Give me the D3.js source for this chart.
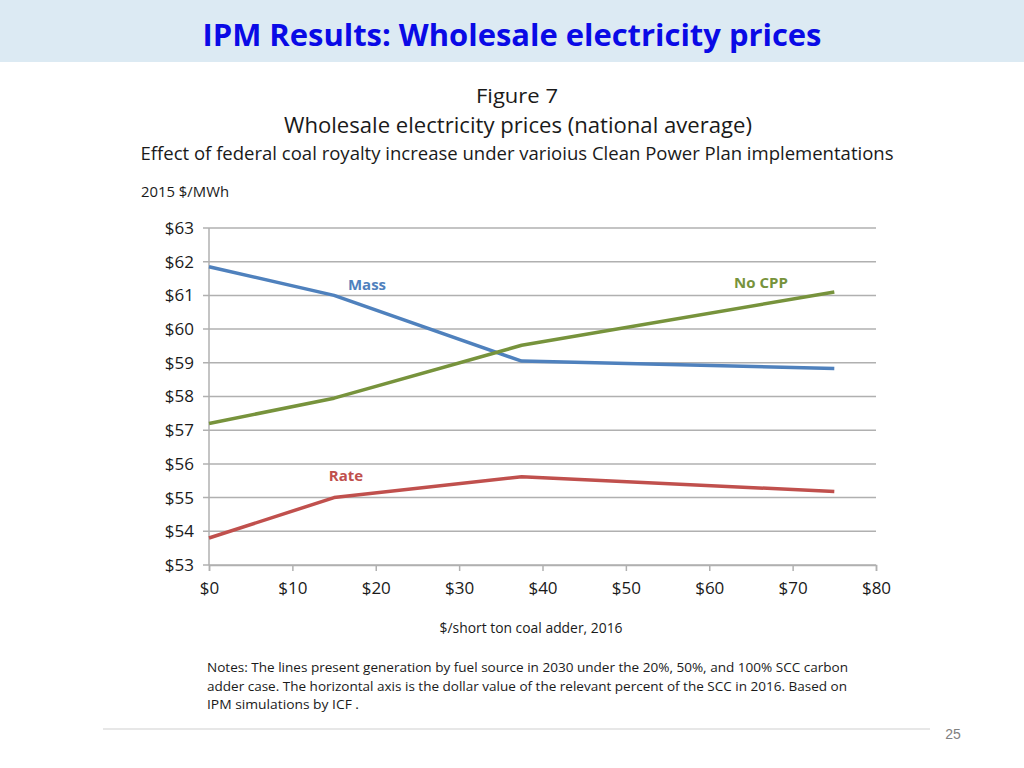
<!DOCTYPE html>
<html>
<head>
<meta charset="utf-8">
<script src="https://cdn.jsdelivr.net/npm/d3@7"></script>
<style>
  body { margin: 0; background: #fff; }
  svg { display: block; font-family: "Open Sans", "Noto Sans", sans-serif; }
</style>
</head>
<body>
<div id="chart"></div>
<script>
// values ($/short ton adder -> 2015 $/MWh)
const adders = [0, 15, 37.5, 75];
const massPrices = [61.85, 61.0, 59.05, 58.83];
const noCppPrices = [57.2, 57.95, 59.52, 61.1];
const ratePrices = [53.8, 55.0, 55.62, 55.18];
const xTicks = [0, 10, 20, 30, 40, 50, 60, 70, 80];
const yTicks = [53, 54, 55, 56, 57, 58, 59, 60, 61, 62, 63];
const notes = [
  "Notes: The lines present generation by fuel source in 2030 under the 20%, 50%, and 100% SCC carbon",
  "adder case. The horizontal axis is the dollar value of the relevant percent of the SCC in 2016. Based on",
  "IPM simulations by ICF ."
];

const series = [
  { name: "Mass", values: massPrices, color: "#4f81bd", lx: 367, ly: 290 },
  { name: "No CPP", values: noCppPrices, color: "#77933c", lx: 761, ly: 288 },
  { name: "Rate", values: ratePrices, color: "#c0504d", lx: 346, ly: 481 }
];

const svg = d3.select('#chart').append('svg').attr('width', 1024).attr('height', 768);

// header band
svg.append('rect').attr('x', 0).attr('y', 0).attr('width', 1024).attr('height', 62).attr('fill', '#dceaf3');
svg.append('text').attr('x', 512).attr('y', 46).attr('text-anchor', 'middle')
  .attr('font-size', 31).attr('font-weight', 'bold').attr('fill', '#0a0ae6')
  .attr('textLength', 619).attr('lengthAdjust', 'spacingAndGlyphs')
  .text('IPM Results: Wholesale electricity prices');

// figure titles
const fig = (txt, x, y, size, len, anchor) => svg.append('text').attr('x', x).attr('y', y)
  .attr('text-anchor', anchor || 'middle').attr('font-size', size).attr('fill', '#1a1a1a')
  .attr('textLength', len).attr('lengthAdjust', 'spacingAndGlyphs').text(txt);
fig('Figure 7', 517, 103, 20, 82);
fig('Wholesale electricity prices (national average)', 518, 133, 22, 468);
fig('Effect of federal coal royalty increase under varioius Clean Power Plan implementations', 517, 160, 18, 753);
fig('2015 $/MWh', 141, 197, 14, 88, 'start');

// plot area
const margin = { left: 209, top: 228 };
const width = 876 - 209;
const height = 565 - 228;
const g = svg.append('g').attr('transform', `translate(${margin.left},${margin.top})`);

const x = d3.scaleLinear().domain([0, 80]).range([0, width]);
const y = d3.scaleLinear().domain([53, 63]).range([height, 0]);

g.selectAll('.grid').data(yTicks).enter().append('line')
  .attr('x1', -6).attr('x2', width)
  .attr('y1', d => y(d)).attr('y2', d => y(d))
  .attr('stroke', '#b0b0b0').attr('stroke-width', 1.5);

g.append('line').attr('x1', 0).attr('x2', 0).attr('y1', 0).attr('y2', height)
  .attr('stroke', '#b0b0b0').attr('stroke-width', 1.5);

const xAxis = g.append('g').attr('transform', `translate(0,${height})`)
  .call(d3.axisBottom(x).tickValues(xTicks).tickSize(6).tickPadding(11).tickFormat(d => '$' + d));
xAxis.select('.domain').attr('stroke', '#b0b0b0').attr('stroke-width', 1.5);
xAxis.selectAll('.tick line').attr('stroke', '#b0b0b0').attr('stroke-width', 1.5);
xAxis.selectAll('text').attr('font-size', 17).attr('fill', '#1a1a1a')
  .attr('font-family', '"Open Sans", sans-serif');

const yAxis = g.append('g')
  .call(d3.axisLeft(y).tickValues(yTicks).tickSize(0).tickPadding(15).tickFormat(d => '$' + d));
yAxis.select('.domain').remove();
yAxis.selectAll('text').attr('font-size', 17).attr('fill', '#1a1a1a')
  .attr('font-family', '"Open Sans", sans-serif');

const line = d3.line().x((d, i) => x(adders[i])).y(d => y(d));

g.selectAll('.series').data(series).enter().append('path')
  .attr('d', d => line(d.values))
  .attr('fill', 'none').attr('stroke', d => d.color).attr('stroke-width', 3.5)
  .attr('stroke-linejoin', 'round');

svg.selectAll('.lbl').data(series).enter().append('text')
  .attr('x', d => d.lx).attr('y', d => d.ly).attr('text-anchor', 'middle')
  .attr('font-size', 15).attr('font-weight', 'bold').attr('fill', d => d.color)
  .text(d => d.name);

// axis title
svg.append('text').attr('x', 531).attr('y', 633).attr('text-anchor', 'middle')
  .attr('font-size', 14).attr('fill', '#1a1a1a')
  .attr('textLength', 183).attr('lengthAdjust', 'spacingAndGlyphs')
  .text('$/short ton coal adder, 2016');

// notes
svg.selectAll('.note').data(notes).enter().append('text')
  .attr('x', 207).attr('y', (d, i) => 672 + i * 18.5)
  .attr('font-size', 13).attr('fill', '#1a1a1a')
  .attr('textLength', (d, i) => [641, 640, 152][i]).attr('lengthAdjust', 'spacingAndGlyphs')
  .text(d => d);

// footer
svg.append('line').attr('x1', 103).attr('x2', 930).attr('y1', 729).attr('y2', 729)
  .attr('stroke', '#cfcfcf').attr('stroke-width', 1);
svg.append('text').attr('x', 953).attr('y', 739).attr('text-anchor', 'middle')
  .attr('font-size', 14).attr('fill', '#808080').attr('font-family', '"Liberation Sans Narrow", sans-serif')
  .text('25');
</script>
</body>
</html>
